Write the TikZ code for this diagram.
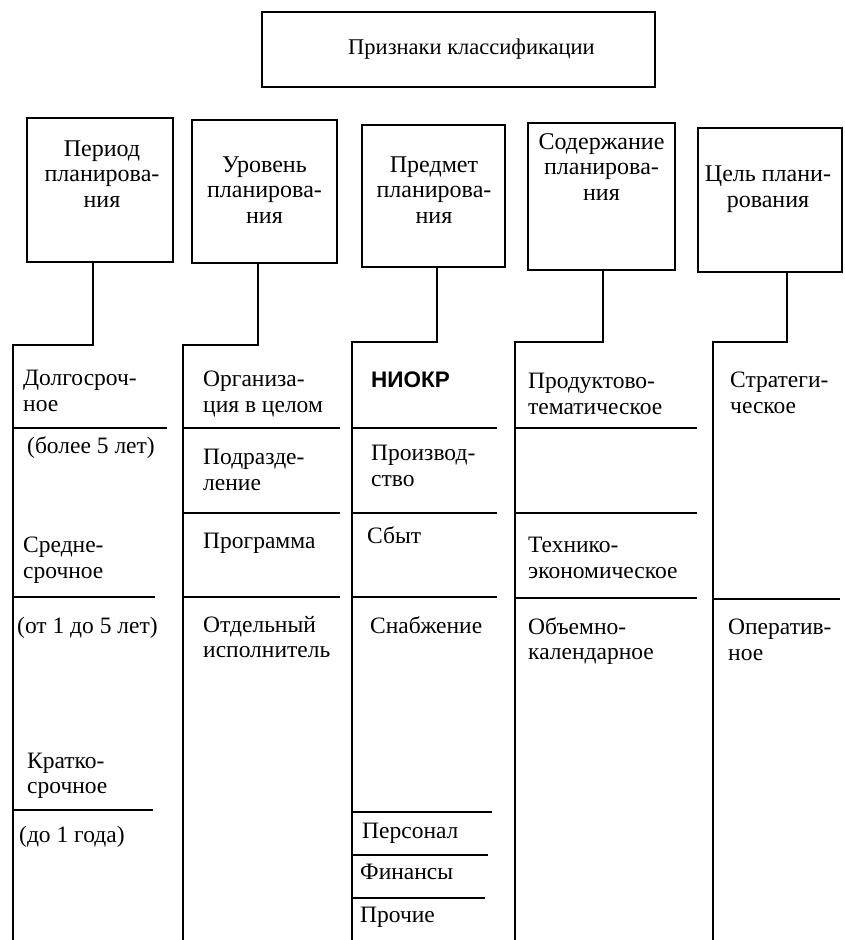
\documentclass[tikz,border=0pt]{standalone}
\usepackage{fontspec}
\setmainfont{Liberation Serif}
\newfontfamily\nisans{Liberation Sans}
\begin{document}
\begin{tikzpicture}[x=1pt,y=1pt,
  boxst/.style={draw,line width=2.6pt,inner sep=0pt},
  lnst/.style={line width=2.2pt},
  txt/.style={anchor=west,inner sep=0pt,align=left,font=\fontsize{23.5}{25.5}\selectfont},
  hd/.style={inner sep=0pt,align=center,font=\fontsize{24}{25.5}\selectfont}]
\useasboundingbox (0,0) rectangle (845,-940);
% top box
\node[boxst,minimum width=393pt,minimum height=75pt,font=\fontsize{22.5}{25}\selectfont] (top) at (458.5,-49.5) {\hspace*{26pt}Признаки классификации};
% heading boxes
\node[boxst,minimum width=146pt,minimum height=144pt] (b1) at (100,-190) {};
\node[boxst,minimum width=145pt,minimum height=143pt] (b2) at (264.5,-191.5) {};
\node[boxst,minimum width=143pt,minimum height=142pt] (b3) at (433.5,-196) {};
\node[boxst,minimum width=147pt,minimum height=147pt] (b4) at (601.5,-196.5) {};
\node[boxst,minimum width=144pt,minimum height=144pt] (b5) at (770,-200) {};
\node[hd] (h1) at (102,-174) {Период\\планирова-\\ния};
\node[hd] (h2) at (264.5,-190) {Уровень\\планирова-\\ния};
\node[hd] (h3) at (434,-190) {Предмет\\планирова-\\ния};
\node[hd] (h4) at (601.5,-167) {Содержание\\планирова-\\ния};
\node[hd] (h5) at (768,-189) {Цель плани-\\рования};
% connectors and column lines
\coordinate (k1) at (93,-345);  \coordinate (c1) at (13,-345);  \coordinate (e1) at (13,-940);
\coordinate (k2) at (258,-345); \coordinate (c2) at (183,-345); \coordinate (e2) at (183,-940);
\coordinate (k3) at (437,-342); \coordinate (c3) at (352,-342); \coordinate (e3) at (352,-940);
\coordinate (k4) at (603,-342); \coordinate (c4) at (515,-342); \coordinate (e4) at (515,-940);
\coordinate (k5) at (787,-342); \coordinate (c5) at (713,-342); \coordinate (e5) at (713,-940);
\draw[lnst] (b1.south -| k1) -- (k1) -- (c1) -- (e1);
\draw[lnst] (b2.south -| k2) -- (k2) -- (c2) -- (e2);
\draw[lnst] (b3.south -| k3) -- (k3) -- (c3) -- (e3);
\draw[lnst] (b4.south -| k4) -- (k4) -- (c4) -- (e4);
\draw[lnst] (b5.south -| k5) -- (k5) -- (c5) -- (e5);
% dividers column 1
\draw[lnst] (c1 |- 0,-428) -- ++(154,0);
\draw[lnst] (c1 |- 0,-597) -- ++(142,0);
\draw[lnst] (c1 |- 0,-810) -- ++(140,0);
% column 2
\draw[lnst] (c2 |- 0,-428) -- ++(157,0);
\draw[lnst] (c2 |- 0,-513) -- ++(157,0);
\draw[lnst] (c2 |- 0,-597) -- ++(157,0);
% column 3
\draw[lnst] (c3 |- 0,-428) -- ++(145,0);
\draw[lnst] (c3 |- 0,-513) -- ++(145,0);
\draw[lnst] (c3 |- 0,-597) -- ++(145,0);
\draw[lnst] (c3 |- 0,-812) -- ++(140,0);
\draw[lnst] (c3 |- 0,-855) -- ++(136,0);
\draw[lnst] (c3 |- 0,-898) -- ++(133,0);
% column 4
\draw[lnst] (c4 |- 0,-428) -- ++(182,0);
\draw[lnst] (c4 |- 0,-513) -- ++(182,0);
\draw[lnst] (c4 |- 0,-598) -- ++(182,0);
% column 5
\draw[lnst] (c5 |- 0,-599) -- ++(127,0);
% texts column 1
\node[txt] (t11) at (23,-391) {Долгосроч-\\ное};
\node[txt] (t12) at (27,-448) {(более 5 лет)};
\node[txt] (t13) at (23,-560) {Средне-\\срочное};
\node[txt] (t14) at (17,-628) {(от 1 до 5 лет)};
\node[txt] (t15) at (27,-776) {Кратко-\\срочное};
\node[txt] (t16) at (19,-837) {(до 1 года)};
% column 2
\node[txt] (t21) at (203,-394) {Организа-\\ция в целом};
\node[txt] (t22) at (203,-470) {Подразде-\\ление};
\node[txt] (t23) at (203,-543) {Программа};
\node[txt] (t24) at (203,-637) {Отдельный\\исполнитель};
% column 3
\node[txt,font=\nisans\bfseries\fontsize{22.5}{24}\selectfont] (t31) at (371,-380) {НИОКР};
\node[txt] (t32) at (371,-466) {Производ-\\ство};
\node[txt] (t33) at (367,-535) {Сбыт};
\node[txt] (t34) at (370,-625) {Снабжение};
\node[txt] (t35) at (362,-833) {Персонал};
\node[txt] (t36) at (360,-872) {Финансы};
\node[txt] (t37) at (360,-917) {Прочие};
% column 4
\node[txt] (t41) at (528,-394) {Продуктово-\\тематическое};
\node[txt] (t42) at (528,-558) {Технико-\\экономическое};
\node[txt] (t43) at (528,-641) {Объемно-\\календарное};
% column 5
\node[txt] (t51) at (730,-393) {Стратеги-\\ческое};
\node[txt] (t52) at (728,-640) {Оператив-\\ное};
\end{tikzpicture}
\end{document}
